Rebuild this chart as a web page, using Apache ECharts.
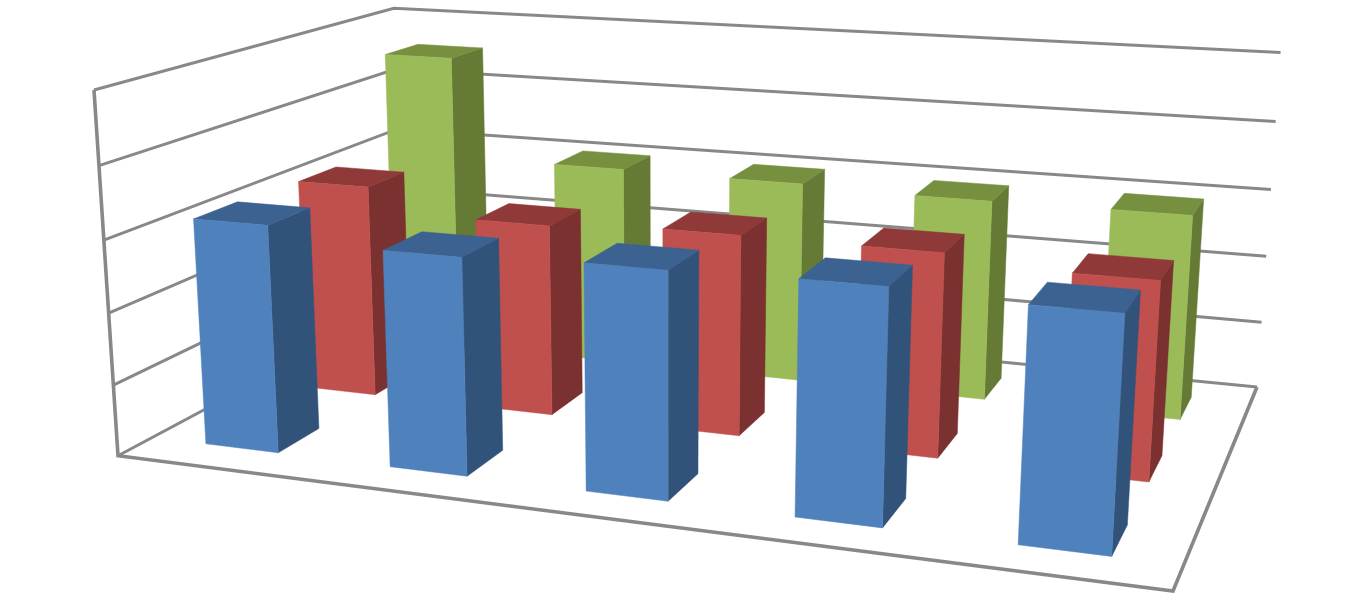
<!DOCTYPE html>
<html>
<head>
<meta charset="utf-8">
<style>html,body{margin:0;padding:0;background:#fff}#chart{width:1364px;height:602px}</style>
<script src="https://cdn.jsdelivr.net/npm/echarts@6/dist/echarts.min.js"></script>
</head>
<body>
<div id="chart"></div>
<script>
// Chart data
const categories = ['1', '2', '3', '4', '5'];
const blueValues = [3.17, 2.97, 3.04, 3.08, 3.01];
const redValues = [3.12, 2.77, 2.86, 2.85, 2.72];
const greenValues = [4.57, 3.03, 3.01, 2.96, 2.97];
const yTicks = [0, 1, 2, 3, 4, 5];

// Camera: homogeneous projection of (across, height, depth), each 0..1
const camera = [
  [876.62, -27.95, 385.88, 118],
  [45.43, -369.48, -76.1, 455.7],
  [-0.15207, -0.042, 0.25032, 1]
];
function project(u, v, w) {
  const q = r => r[0] * u + r[1] * v + r[2] * w + r[3];
  const d = q(camera[2]);
  return [q(camera[0]) / d, q(camera[1]) / d];
}

const depthBands = 3;
const barShare = 0.4;
const lineColor = '#888888';

function renderBar(depthIndex, shades) {
  return function (params, api) {
    const rect = params.coordSys;
    const top = api.coord([api.value(0), api.value(1)]);
    const halfU = (api.size([1, 0])[0] * barShare / 2) / rect.width;
    const cu = (top[0] - rect.x) / rect.width;
    const v = (rect.y + rect.height - top[1]) / rect.height;
    const cw = (depthIndex + 0.5) / depthBands;
    const halfW = barShare / depthBands / 2;
    const u0 = cu - halfU, u1 = cu + halfU, w0 = cw - halfW, w1 = cw + halfW;
    const face = (pts, color) => ({
      type: 'polygon',
      shape: { points: pts.map(p => project(p[0], p[1], p[2])) },
      style: { fill: color, stroke: color, lineWidth: 0.5 }
    });
    return {
      type: 'group',
      children: [
        face([[u1, 0, w0], [u1, 0, w1], [u1, v, w1], [u1, v, w0]], shades.side),
        face([[u0, v, w0], [u1, v, w0], [u1, v, w1], [u0, v, w1]], shades.top),
        face([[u0, 0, w0], [u1, 0, w0], [u1, v, w0], [u0, v, w0]], shades.front)
      ]
    };
  };
}

function renderGridLine(params, api) {
  const rect = params.coordSys;
  const tick = api.value(0);
  const p = api.coord([0, tick]);
  const v = (rect.y + rect.height - p[1]) / rect.height;
  const stroke = { stroke: lineColor, fill: null, lineWidth: 3, lineJoin: 'miter' };
  const children = [{
    type: 'polyline',
    shape: { points: [project(0, v, 0), project(0, v, 1), project(1, v, 1)] },
    style: stroke
  }];
  if (tick === yTicks[0]) {
    children.push({
      type: 'polyline',
      shape: { points: [project(1, 0, 1), project(1, 0, 0), project(0, 0, 0), project(0, 1, 0)] },
      style: Object.assign({}, stroke, { lineWidth: 3.6 })
    });
  }
  return { type: 'group', children };
}

const barSeries = (name, values, depthIndex, shades) => ({
  name,
  type: 'custom',
  clip: false,
  renderItem: renderBar(depthIndex, shades),
  encode: { x: 0, y: 1 },
  data: values.map((val, i) => [i, val])
});

const chart = echarts.init(document.getElementById('chart'), null, { renderer: 'canvas' });
chart.setOption({
  animation: false,
  backgroundColor: '#ffffff',
  grid: { left: 0, right: 0, top: 0, bottom: 0 },
  xAxis: { type: 'category', data: categories, show: false },
  yAxis: { type: 'value', min: 0, max: 5, interval: 1, show: false },
  series: [
    {
      name: 'grid',
      type: 'custom',
      clip: false,
      silent: true,
      renderItem: renderGridLine,
      encode: { y: 0 },
      data: yTicks.map(t => [t])
    },
    barSeries('Series 3', greenValues, 2, { front: '#9BBB59', side: '#657A35', top: '#76903F' }),
    barSeries('Series 2', redValues, 1, { front: '#C0504D', side: '#7B312F', top: '#8F3938' }),
    barSeries('Series 1', blueValues, 0, { front: '#4F81BD', side: '#325379', top: '#3B6290' })
  ]
});
</script>
</body>
</html>
